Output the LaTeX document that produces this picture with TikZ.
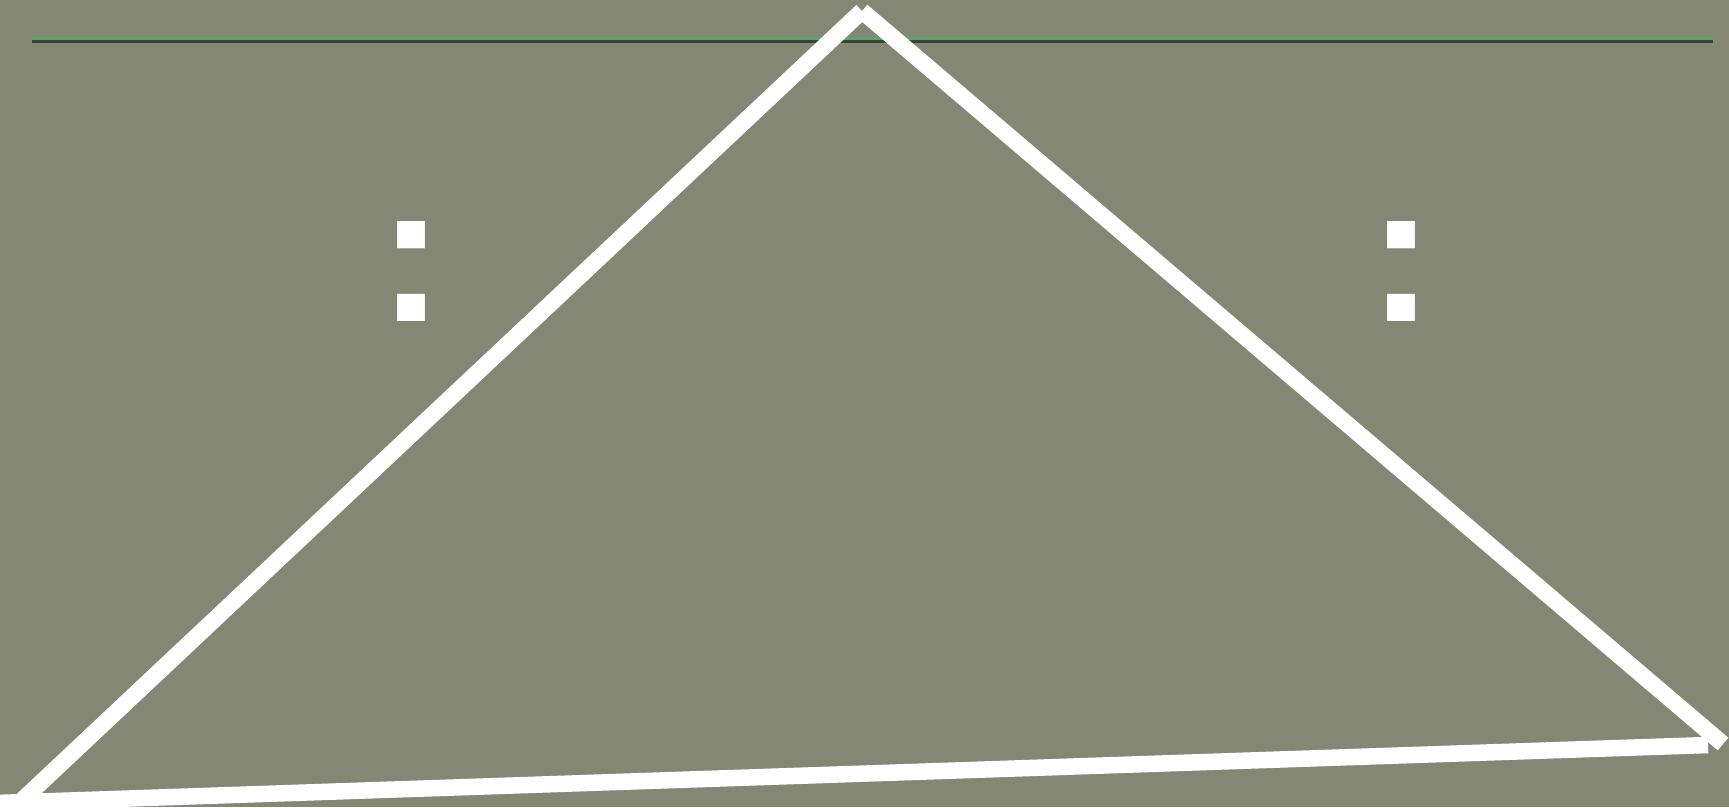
\documentclass[tikz,border=0pt]{standalone}
\usepackage{fontspec}
\newfontfamily\colonfont{Liberation Sans}
\definecolor{bgolive}{RGB}{132,135,116}
\definecolor{rulegreen}{RGB}{98,160,108}
\definecolor{ruledark}{RGB}{58,66,56}
\begin{document}
\begin{tikzpicture}[x=1pt,y=-1pt,
  edge/.style={draw=white,line width=16.5pt,line cap=butt},
  colonmark/.style={anchor=base west,inner sep=0pt,text=white,font=\colonfont\bfseries\fontsize{198}{198}\selectfont}]
\fill[bgolive] (0,0) rectangle (1729,807);
\useasboundingbox (0,0) rectangle (1729,807);
\clip (0,0) rectangle (1729,807);
% top rule
\draw[rulegreen,line width=2.5pt] (32,38.3) -- (1713,38.3);
\draw[ruledark,line width=3pt] (32,41) -- (1713,41);
% colons
\node[colonmark] (cl) at (378,321) {:};
\node[colonmark] (cr) at (1368,321) {:};
% triangle vertices
\coordinate (apex) at (862,11);
\coordinate (lend) at (16,806);
\coordinate (rend) at (1723,744);
\coordinate (bstart) at (-4,803);
\coordinate (bend) at (1708,745);
\draw[edge] (apex) -- (lend);
\draw[edge] (apex) -- (rend);
\draw[edge] (bstart) -- (bend);
\end{tikzpicture}
\end{document}
